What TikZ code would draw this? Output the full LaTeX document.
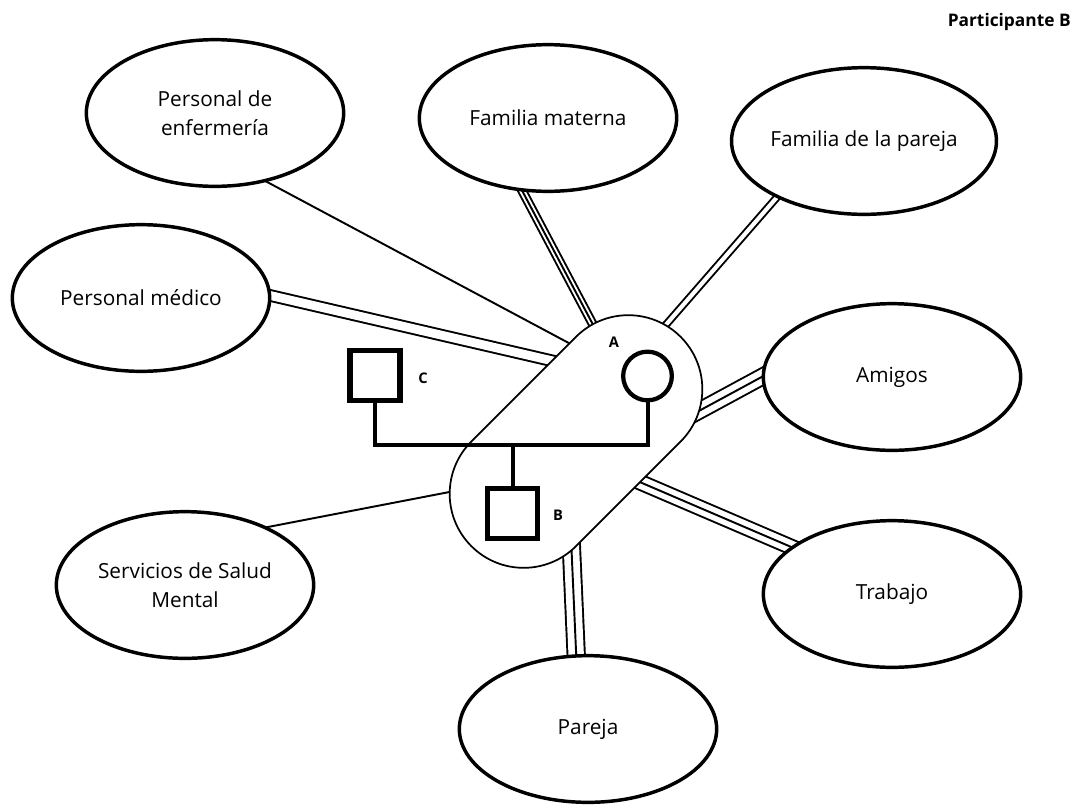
\documentclass[tikz,border=0pt]{standalone}
\usepackage{fontspec}
\setmainfont{Open Sans}
\usetikzlibrary{calc,backgrounds,shapes.geometric}
\tikzset{
	sistema/.style={ellipse, draw, line width=2.6pt, fill=white, minimum width=193pt, minimum height=110pt, inner sep=0pt, align=center, font=\fontsize{15.6}{21.75}\selectfont},
	simple/.style={line width=1.45pt},
	doble/.style={double, line width=1.45pt, double distance=#1},
	doble/.default=3.1pt,
	triple/.style={line width=2*#1+1.45pt, postaction={draw=white, line width=2*#1-1.45pt}, postaction={draw=black, line width=1.45pt}},
	triple/.default=5.5pt,
	varon/.style={draw, rectangle, line width=3.8pt, minimum size=37.5pt, inner sep=0pt, fill=white},
	mujer/.style={draw, circle, line width=3.2pt, minimum size=36.5pt, inner sep=0pt},
	lazo/.style={line width=3pt},
	etiqueta/.style={font=\bfseries\fontsize{11}{12}\selectfont, inner sep=0pt}
}
\begin{document}
\begin{tikzpicture}[x=0.75pt, y=-0.75pt]
	\useasboundingbox (0,0) rectangle (1075,808);
	
	%sistemas
	\node[sistema] (enf) at (215,113) {Personal de\\enfermería};
	\node[sistema] (mat) at (548,118) {Familia materna};
	\node[sistema] (fpa) at (864,141) {Familia de la pareja};
	\node[sistema] (med) at (141,298) {Personal médico};
	\node[sistema] (ami) at (892,377) {Amigos};
	\node[sistema] (sal) at (185,585) {Servicios de Salud\\Mental};
	\node[sistema] (tra) at (892,594) {Trabajo};
	\node[sistema] (par) at (588,729) {Pareja};
	
	%nucleo familiar
	\node[draw, fill=white, line width=1.3pt, rotate=45, minimum width=222pt, minimum height=111pt, rounded corners=55.5pt] (nucleo) at (576,441.5) {};
	
	\coordinate (kEnf) at (580,349);
	\coordinate (kMed) at (566,364);
	\coordinate (kMat) at (599,336);
	\coordinate (kFpa) at (657,335);
	\coordinate (kAmi) at (684,419);
	\coordinate (kTra) at (628,477);
	\coordinate (kPar) at (571,538);
	\coordinate (kSal) at (465,489);
	
	\begin{pgfonlayer}{background}
		\draw[simple] ($(enf.-53)!-8pt!(kEnf)$) -- (kEnf);
		\draw[doble=6.6pt] ($(med.1)!-8pt!(kMed)$) -- (kMed);
		\draw[triple=2.9pt] ($(mat.-109)!-8pt!(kMat)$) -- (kMat);
		\draw[doble] ($(fpa.-147)!-8pt!(kFpa)$) -- (kFpa);
		\draw[triple=6pt] ($(ami.180)!-8pt!(kAmi)$) -- (kAmi);
		\draw[triple] ($(tra.155)!-8pt!(kTra)$) -- (kTra);
		\draw[triple=6.5pt] ($(par.99)!-8pt!(kPar)$) -- (kPar);
		\draw[simple] ($(sal.35)!-8pt!(kSal)$) -- (kSal);
	\end{pgfonlayer}
	
	%genograma
	\node[varon] (C) at (375,375.5) {};
	\node[mujer] (A) at (647.5,376) {};
	\node[varon] (B) at (512.5,513.5) {};
	\coordinate (union) at (512.5,445);
	\draw[lazo] (C.south) |- (union) -| (A.south);
	\draw[lazo] (union) -- (B.north);
	\node[etiqueta] (etA) at (614,342) {A};
	\node[etiqueta] (etB) at (558,515) {B};
	\node[etiqueta] (etC) at (423,378) {C};
	
	\node[anchor=east, inner sep=0pt, font=\bfseries\fontsize{13}{15}\selectfont] (titulo) at (1071,22) {Participante B};
\end{tikzpicture}
\end{document}
